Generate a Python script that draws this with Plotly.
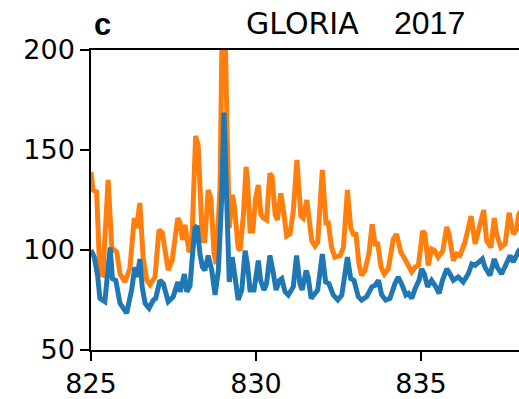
import plotly.graph_objects as go

# Orange series (upper)
orange_x = [825.00, 825.06, 825.17, 825.27, 825.36, 825.52, 825.63, 825.78, 825.88, 826.03,
            826.18, 826.31, 826.38, 826.48, 826.58, 826.69, 826.79, 826.94, 827.06, 827.16,
            827.34, 827.46, 827.63, 827.70, 827.77, 827.85, 827.97, 828.05, 828.17, 828.25,
            828.35, 828.40, 828.45, 828.55, 828.63, 828.73, 828.79, 828.91, 828.98, 829.06,
            829.13, 829.19, 829.29, 829.34, 829.46, 829.52, 829.62, 829.70, 829.74, 829.82,
            829.90, 829.99, 830.07, 830.15, 830.22, 830.32, 830.42, 830.49, 830.58, 830.65,
            830.75, 830.81, 830.93, 831.03, 831.13, 831.24, 831.36, 831.43, 831.54, 831.58,
            831.69, 831.79, 831.87, 832.01, 832.12, 832.19, 832.29, 832.39, 832.55, 832.65,
            832.77, 832.87, 832.95, 833.03, 833.12, 833.20, 833.30, 833.42, 833.52, 833.61,
            833.69, 833.79, 833.89, 834.01, 834.16, 834.26, 834.39, 834.46, 834.57, 834.67,
            834.72, 834.82, 834.92, 835.05, 835.12, 835.22, 835.32, 835.42, 835.52, 835.66,
            835.78, 835.85, 835.98, 836.08, 836.18, 836.33, 836.52, 836.64, 836.76, 836.90,
            836.99, 837.12, 837.22, 837.29, 837.42, 837.55, 837.67, 837.80, 837.90, 837.96,
            838.05]
orange_y = [139, 130, 129, 88, 87.5, 135, 101, 99, 88, 84,
            91, 116, 111, 123.5, 96, 85, 82.6, 86.5, 110, 108.7,
            90, 95, 116, 113.6, 105, 112.6, 99, 101, 157, 152,
            113, 104.7, 104.7, 130, 126, 98, 93, 131, 220, 215,
            155.6, 111, 127.6, 122.7, 101, 99.8, 117.7, 141.6, 135.8, 109.5,
            109.5, 126, 132.5, 117.7, 116, 115, 138.3, 136.6, 117.7, 115,
            128.4, 122.7, 107, 108, 119.4, 145, 117, 116, 125, 120,
            104.6, 102, 103.8, 140, 113.6, 113.6, 101.3, 96.4, 97.2, 101.3,
            130, 111, 107.9, 107.9, 93, 87.3, 89.8, 98, 112.8, 103,
            103, 91.4, 88, 90.6, 105.4, 108, 98.8, 97, 93, 90.6,
            89, 91.4, 92.3, 109.5, 108, 92.3, 100.5, 99.6, 96.4, 99.6,
            111.5, 108, 94.7, 98, 97.2, 103.8, 117, 103, 111, 120,
            104.6, 101.3, 116, 108, 101.3, 103, 118.6, 108, 110.3, 117.7,
            120]

# Blue series (lower)
blue_x = [825.00, 825.10, 825.20, 825.27, 825.42, 825.51, 825.58, 825.65, 825.75, 825.88,
          825.98, 826.08, 826.23, 826.33, 826.40, 826.48, 826.55, 826.64, 826.76, 826.89,
          826.96, 827.09, 827.19, 827.34, 827.49, 827.63, 827.70, 827.83, 827.90, 828.00,
          828.07, 828.15, 828.22, 828.30, 828.38, 828.45, 828.55, 828.66, 828.76, 828.86,
          828.96, 829.03, 829.11, 829.19, 829.28, 829.36, 829.46, 829.57, 829.67, 829.74,
          829.82, 829.94, 830.07, 830.14, 830.24, 830.32, 830.42, 830.51, 830.61, 830.71,
          830.78, 830.88, 830.98, 831.13, 831.23, 831.33, 831.40, 831.52, 831.58, 831.67,
          831.77, 831.87, 832.01, 832.11, 832.21, 832.34, 832.48, 832.60, 832.77, 832.87,
          832.97, 833.10, 833.20, 833.35, 833.51, 833.61, 833.71, 833.81, 833.93, 834.06,
          834.21, 834.31, 834.43, 834.54, 834.62, 834.72, 834.82, 834.94, 835.02, 835.10,
          835.20, 835.32, 835.45, 835.55, 835.65, 835.78, 835.88, 835.98, 836.13, 836.28,
          836.43, 836.54, 836.64, 836.74, 836.86, 836.94, 837.09, 837.22, 837.31, 837.44,
          837.58, 837.70, 837.80, 837.92, 837.96, 838.05]
blue_y = [100, 96.4, 87.3, 75.8, 74.2, 88, 101.3, 85.7, 84.8, 73.3,
          70.9, 68.4, 80, 91.4, 86.5, 95.5, 81.6, 73.3, 70.9, 75,
          75.8, 84.8, 83.2, 74.2, 76.6, 84, 79.1, 88, 79.1, 82,
          96.4, 111, 112, 98, 91.4, 89.8, 97.2, 89.8, 77.5, 89.8,
          126, 168.7, 126, 84, 96.4, 84.8, 75, 80, 99.7, 93,
          80, 80, 94.7, 84.8, 80, 83.2, 97.2, 89.8, 80, 84.8,
          85.7, 79.1, 77.5, 81.6, 97.2, 83.2, 80, 89.8, 86.5, 75.8,
          78.3, 80, 98, 84, 83.2, 77.5, 75, 77.5, 96.4, 85.7,
          84.8, 76.6, 75, 76.6, 81.6, 82.4, 84.8, 77.5, 75, 75.8,
          83.2, 86.5, 82.4, 77.5, 78.3, 75.8, 80.7, 84.8, 90.6, 88,
          81.6, 84.8, 81.6, 78.3, 84.8, 90.6, 88, 84.8, 86.5, 84,
          88, 93, 92.3, 94, 95.5, 91.4, 87.3, 95.5, 91.4, 88,
          93, 97.2, 94, 98, 99.6, 101]

x_ticks = [825, 830, 835]
y_ticks = [50, 100, 150, 200]

fig = go.Figure()
fig.add_trace(go.Scatter(x=orange_x, y=orange_y, mode="lines",
                         line=dict(color="#ff7f0e", width=5), showlegend=False))
fig.add_trace(go.Scatter(x=blue_x, y=blue_y, mode="lines",
                         line=dict(color="#1f77b4", width=5), showlegend=False))

axis_font = dict(family="DejaVu Sans", size=27, color="black")
PLOT_L, PLOT_W, PLOT_B, PLOT_H = 91, 428, 45, 304


def px_to_paper(px_x, px_y_from_top):
    return (px_x - PLOT_L) / PLOT_W, ((399 - px_y_from_top) - PLOT_B) / PLOT_H


ann_specs = [
    ("<b>c</b>", 92, 44, "Liberation Sans", 31, "left"),
    ("GLORIA", 302, 43, "DejaVu Sans", 30, "center"),
    ("2017", 429, 43, "Liberation Sans", 32, "center"),
]
annotations = []
for text, px, py, fam, size, xa in ann_specs:
    ax, ay = px_to_paper(px, py)
    annotations.append(dict(text=text, x=ax, y=ay, xref="paper", yref="paper",
                            showarrow=False, font=dict(family=fam, size=size, color="black"),
                            xanchor=xa, yanchor="bottom"))

fig.update_layout(
    width=519, height=399,
    margin=dict(l=PLOT_L, r=0, t=50, b=PLOT_B),
    paper_bgcolor="white", plot_bgcolor="white",
    xaxis=dict(range=[825, 825 + 428 / 33], tickvals=x_ticks, ticks="outside",
               ticklen=9, tickwidth=1.5, tickcolor="black", showline=True,
               linecolor="black", linewidth=1.5, mirror=True, showgrid=False,
               zeroline=False, tickfont=axis_font),
    yaxis=dict(range=[50, 200], tickvals=y_ticks, ticks="outside",
               ticklen=9, tickwidth=1.5, tickcolor="black", showline=True,
               linecolor="black", linewidth=1.5, showgrid=False,
               zeroline=False, tickfont=axis_font),
    annotations=annotations,
)
fig.write_html("out.html")
